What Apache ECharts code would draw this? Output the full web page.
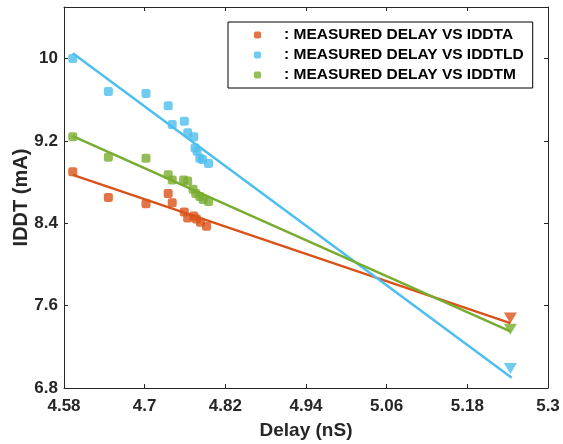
<!DOCTYPE html>
<html lang="en">

<head>
    <meta charset="UTF-8">
    <title>IDDT vs Delay</title>
    <script src="https://cdnjs.cloudflare.com/ajax/libs/echarts/6.0.0/echarts.min.js"></script>
    <style>
        body { margin: 0; background: #fff; }
    </style>
</head>

<body>
    <div id="main" style="width: 563px;height:444px;"></div>

    <script>
        // series names
        const names = [': MEASURED DELAY VS IDDTA', ': MEASURED DELAY VS IDDTLD', ': MEASURED DELAY VS IDDTM'];
        const colors = ['#D95319', '#4DBEEE', '#77AC30'];

        // measured points [delay, iddt]
        const iddtA = [[4.593, 8.90], [4.646, 8.65], [4.702, 8.59], [4.735, 8.69], [4.741, 8.60], [4.759, 8.51],
            [4.764, 8.45], [4.773, 8.47], [4.777, 8.44], [4.783, 8.41], [4.792, 8.37]];
        const iddtLD = [[4.593, 10.00], [4.646, 9.68], [4.702, 9.66], [4.735, 9.54], [4.741, 9.36], [4.759, 9.39],
            [4.764, 9.28], [4.773, 9.24], [4.775, 9.13], [4.778, 9.10], [4.782, 9.03], [4.786, 9.02], [4.795, 8.98]];
        const iddtM = [[4.593, 9.24], [4.646, 9.04], [4.702, 9.03], [4.735, 8.87], [4.741, 8.82], [4.758, 8.82],
            [4.764, 8.81], [4.772, 8.73], [4.776, 8.69], [4.782, 8.66], [4.787, 8.63], [4.795, 8.61]];

        // predicted points (triangles)
        const predA = [[5.244, 7.48]];
        const predLD = [[5.244, 6.99]];
        const predM = [[5.244, 7.37]];

        // fitted lines
        const fitA = [[4.593, 8.87], [5.244, 7.43]];
        const fitLD = [[4.593, 10.05], [5.246, 6.90]];
        const fitM = [[4.593, 9.245], [5.244, 7.35]];

        const xTicks = [4.58, 4.7, 4.82, 4.94, 5.06, 5.18, 5.3];
        const yTicks = [6.8, 7.6, 8.4, 9.2, 10];

        const myChart = echarts.init(document.getElementById('main'));

        const font = 'Liberation Sans, Arial, sans-serif';
        const axisCommon = {
            axisLine: { show: true, onZero: false, lineStyle: { color: '#262626', width: 1 } },
            splitLine: { show: false }
        };

        function scatter(name, data, color) {
            return {
                name: name, type: 'scatter', data: data,
                symbol: 'roundRect', symbolSize: 9,
                itemStyle: { color: color }, z: 3
            };
        }
        function tri(name, data, color) {
            return {
                name: name, type: 'scatter', data: data,
                symbol: 'triangle', symbolRotate: 180, symbolSize: [13, 11],
                itemStyle: { color: color }, z: 3
            };
        }
        function fit(name, data, color) {
            return {
                name: name, type: 'line', data: data, showSymbol: false, symbol: 'none',
                lineStyle: { color: color, width: 2.5 }, z: 4, silent: true
            };
        }

        let option = {
            animation: false,
            grid: { left: 64, right: 15, top: 7, bottom: 56, containLabel: false, outerBoundsMode: 'none' },
            legend: {
                data: names.map((n) => ({ name: n, icon: 'roundRect' })),
                orient: 'vertical',
                left: 228, top: 22,
                itemWidth: 7, itemHeight: 7, itemGap: 4,
                padding: [5, 9, 5, 26],
                borderColor: '#000', borderWidth: 1, backgroundColor: '#fff',
                selectedMode: false,
                textStyle: { fontFamily: font, fontWeight: 'bold', fontSize: 15.5, color: '#000', lineHeight: 16, padding: [0, 0, 0, 18] }
            },
            xAxis: [
                Object.assign({
                    type: 'value', min: 4.58, max: 5.3,
                    name: 'Delay (nS)', nameLocation: 'middle', nameGap: 33,
                    nameTextStyle: { fontFamily: font, fontWeight: 'bold', fontSize: 19, color: '#262626' },
                    axisTick: { inside: true, length: 4, customValues: xTicks, lineStyle: { color: '#262626' } },
                    axisLabel: { customValues: xTicks, margin: 10, fontFamily: font, fontWeight: 'bold', fontSize: 17, color: '#262626' }
                }, axisCommon),
                Object.assign({
                    type: 'value', min: 4.58, max: 5.3, position: 'top',
                    axisTick: { inside: true, length: 4, customValues: xTicks, lineStyle: { color: '#262626' } },
                    axisLabel: { show: false }
                }, axisCommon)
            ],
            yAxis: [
                Object.assign({
                    type: 'value', min: 6.8, max: 10.5,
                    name: 'IDDT (mA)', nameLocation: 'middle', nameGap: 33, nameMoveOverlap: false,
                    nameTextStyle: { fontFamily: font, fontWeight: 'bold', fontSize: 20, color: '#262626' },
                    axisTick: { inside: true, length: 4, customValues: yTicks, lineStyle: { color: '#262626' } },
                    axisLabel: { customValues: yTicks, margin: 6, fontFamily: font, fontWeight: 'bold', fontSize: 17, color: '#262626' }
                }, axisCommon),
                Object.assign({
                    type: 'value', min: 6.8, max: 10.5, position: 'right',
                    axisTick: { inside: true, length: 4, customValues: yTicks, lineStyle: { color: '#262626' } },
                    axisLabel: { show: false }
                }, axisCommon)
            ],
            series: [
                scatter(names[0], iddtA, colors[0]),
                scatter(names[1], iddtLD, colors[1]),
                scatter(names[2], iddtM, colors[2]),
                fit('fitA', fitA, colors[0]),
                fit('fitLD', fitLD, colors[1]),
                fit('fitM', fitM, colors[2]),
                tri('predA', predA, colors[0]),
                tri('predLD', predLD, colors[1]),
                tri('predM', predM, colors[2])
            ]
        };

        myChart.setOption(option);
    </script>
</body>

</html>
